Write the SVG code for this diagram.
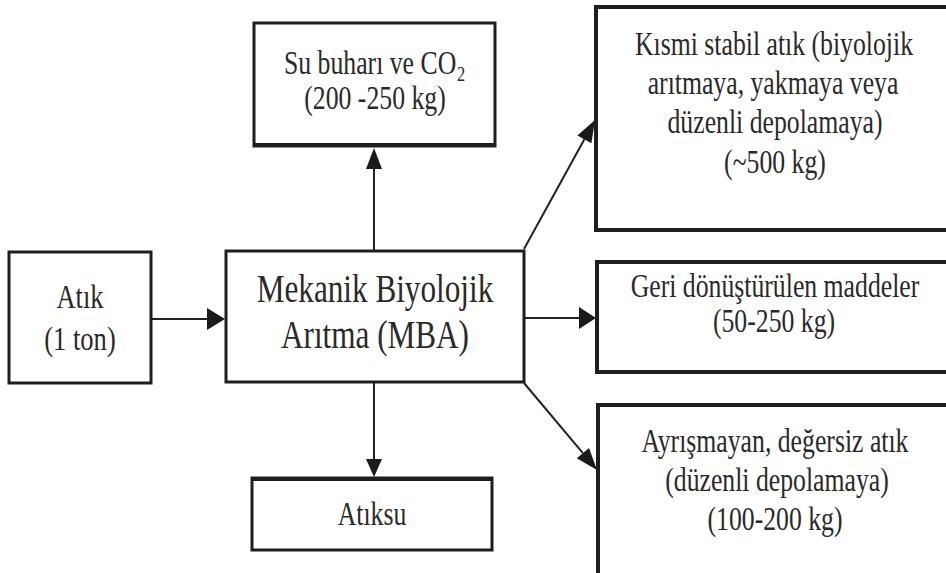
<svg xmlns="http://www.w3.org/2000/svg" width="946" height="573" viewBox="0 0 946 573">
  <style>
    .box { fill: #ffffff; stroke: #1e1e1e; stroke-width: 3; }
    .box.wide { stroke-width: 4; }
    .edge { stroke: #1e1e1e; stroke-width: 4; }
    .lbl { font-family: "Liberation Serif", "Times New Roman", serif; fill: #2a2a2a; text-anchor: middle; font-size: 33px; }
    .lbl.big { font-size: 40px; }
    .lbl.mid { font-size: 34px; }
    .lbl.sub { font-size: 21px; text-anchor: start; }
    .lbl.start { text-anchor: start; }
    .wire { stroke: #222222; stroke-width: 2; fill: none; }
    .head { fill: #1a1a1a; stroke: none; }
  </style>
  <rect width="946" height="573" fill="#ffffff"/>

  <!-- connectors -->
  <g id="connectors">
    <line class="wire" x1="151" y1="319" x2="208" y2="319"/>
    <polygon class="head" points="207,308 225,319 207,330"/>

    <line class="wire" x1="374" y1="251" x2="374" y2="168"/>
    <polygon class="head" points="366,169 374,148 382,169"/>

    <line class="wire" x1="374" y1="382" x2="374" y2="460"/>
    <polygon class="head" points="366,459 374,477 382,459"/>

    <line class="wire" x1="524" y1="318" x2="580" y2="318"/>
    <polygon class="head" points="579,307 596,318 579,329"/>

    <line class="wire" x1="524" y1="249" x2="584.4" y2="139.3"/>
    <polygon class="head" points="591.4,143.2 595,120 577.4,135.4"/>

    <line class="wire" x1="524" y1="383" x2="582.9" y2="453.1"/>
    <polygon class="head" points="576.8,458.2 597,470 589,448"/>
  </g>

  <!-- input waste -->
  <g id="atik">
    <rect class="box" x="9" y="252" width="142" height="131"/>
    <text class="lbl mid" transform="translate(80,308) scale(0.78,1)">Atık</text>
    <text class="lbl mid" transform="translate(80,350) scale(0.78,1)">(1 ton)</text>
  </g>

  <!-- treatment plant -->
  <g id="mba">
    <rect class="box" x="226" y="251" width="298" height="131"/>
    <text class="lbl big" transform="translate(375,302) scale(0.78,1)">Mekanik Biyolojik</text>
    <text class="lbl big" transform="translate(375,348) scale(0.78,1)">Arıtma (MBA)</text>
  </g>

  <!-- gaseous output -->
  <g id="su-buhari">
    <rect class="box" x="254" y="23" width="241" height="123"/>
    <line class="edge" x1="254" y1="145" x2="495" y2="145"/>
    <text class="lbl start" transform="translate(284,74) scale(0.78,1)">Su buharı ve CO</text>
    <text class="lbl sub" transform="translate(457,81) scale(0.78,1)">2</text>
    <text class="lbl" transform="translate(375,109) scale(0.78,1)">(200 -250 kg)</text>
  </g>

  <!-- wastewater -->
  <g id="atiksu">
    <rect class="box" x="252" y="478" width="240" height="72"/>
    <line class="edge" x1="252" y1="479" x2="492" y2="479"/>
    <text class="lbl" transform="translate(372,525) scale(0.78,1)">Atıksu</text>
  </g>

  <!-- partially stabilised fraction -->
  <g id="kismi-stabil">
    <rect class="box wide" x="596" y="7" width="370" height="223"/>
    <text class="lbl" transform="translate(774,55) scale(0.78,1)">Kısmi stabil atık (biyolojik</text>
    <text class="lbl" transform="translate(773,94) scale(0.78,1)">arıtmaya, yakmaya veya</text>
    <text class="lbl" transform="translate(775,133) scale(0.78,1)">düzenli depolamaya)</text>
    <text class="lbl" transform="translate(775,173) scale(0.78,1)">(~500 kg)</text>
  </g>

  <!-- recovered materials -->
  <g id="geri-donusum">
    <rect class="box wide" x="597" y="262" width="370" height="110"/>
    <text class="lbl" transform="translate(775,297) scale(0.78,1)">Geri dönüştürülen maddeler</text>
    <text class="lbl" transform="translate(774,332) scale(0.78,1)">(50-250 kg)</text>
  </g>

  <!-- residual waste -->
  <g id="ayrismayan">
    <rect class="box wide" x="598" y="405" width="370" height="200"/>
    <text class="lbl" transform="translate(775,452) scale(0.78,1)">Ayrışmayan, değersiz atık</text>
    <text class="lbl" transform="translate(777,491) scale(0.78,1)">(düzenli depolamaya)</text>
    <text class="lbl" transform="translate(775,530) scale(0.78,1)">(100-200 kg)</text>
  </g>
</svg>
